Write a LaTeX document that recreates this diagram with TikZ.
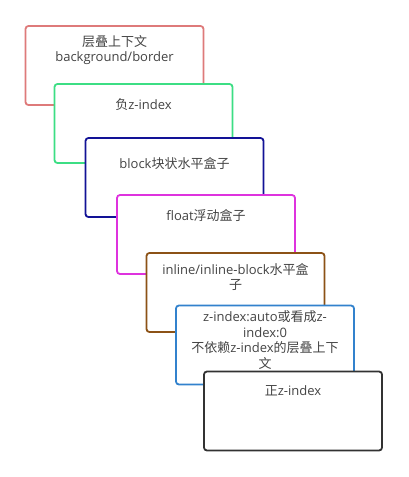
\documentclass[tikz,border=0pt]{standalone}
\usepackage{fontspec}
\setmainfont{Open Sans}
\newfontfamily\cjk{Noto Sans CJK SC}
\newcommand{\zh}[1]{{\cjk #1}}
\usepackage{xcolor}
\definecolor{edgered}{RGB}{222,122,122}
\definecolor{edgegreen}{RGB}{60,222,132}
\definecolor{edgenavy}{RGB}{18,18,150}
\definecolor{edgemagenta}{RGB}{222,50,222}
\definecolor{edgebrown}{RGB}{140,82,22}
\definecolor{edgeblue}{RGB}{50,130,205}
\definecolor{edgegray}{RGB}{50,50,50}
\definecolor{labeltext}{RGB}{68,68,68}

\begin{document}
\begin{tikzpicture}[x=1pt, y=-1pt,
  layer/.style={draw, fill=white, line width=1.8pt, rounded corners=3pt,
    minimum width=178pt, minimum height=79pt, inner sep=0pt},
  caption/.style={anchor=north, inner sep=0pt, align=center, text=labeltext,
    font=\fontsize{13}{15.5}\selectfont}]

\useasboundingbox (0,0) rectangle (408,477);

% stacking context
  \node[layer, draw=edgered] (ctx) at (114.5,65.5) {};
  \node[caption] (ctxtext) at ([yshift=-10pt]ctx.north) {\zh{层叠上下文}\\background/border};

% negative z-index
  \node[layer, draw=edgegreen] (neg) at (143.5,123.5) {};
  \node[caption] (negtext) at ([yshift=-15pt]neg.north) {\zh{负}z-index};

% block
  \node[layer, draw=edgenavy] (blk) at (174.5,177.5) {};
  \node[caption] (blktext) at ([yshift=-20pt]blk.north) {block\zh{块状水平盒子}};

% float
  \node[layer, draw=edgemagenta] (flt) at (206,234.5) {};
  \node[caption] (flttext) at ([yshift=-15pt]flt.north) {float\zh{浮动盒子}};

% inline
  \node[layer, draw=edgebrown] (inl) at (235.5,292.5) {};
  \node[caption] (inltext) at ([yshift=-11pt]inl.north) {inline/inline-block\zh{水平盒}\\\zh{子}};

% z-index auto / 0
  \node[layer, draw=edgeblue] (zero) at (265,345) {};
  \node[caption] (zerotext) at ([yshift=-6pt]zero.north) {z-index:auto\zh{或看成}z-\\index:0\\\zh{不依赖}z-index\zh{的层叠上下}\\\zh{文}};

% positive z-index
  \node[layer, draw=edgegray] (pos) at (293,411) {};
  \node[caption] (postext) at ([yshift=-15pt]pos.north) {\zh{正}z-index};

\end{tikzpicture}
\end{document}
